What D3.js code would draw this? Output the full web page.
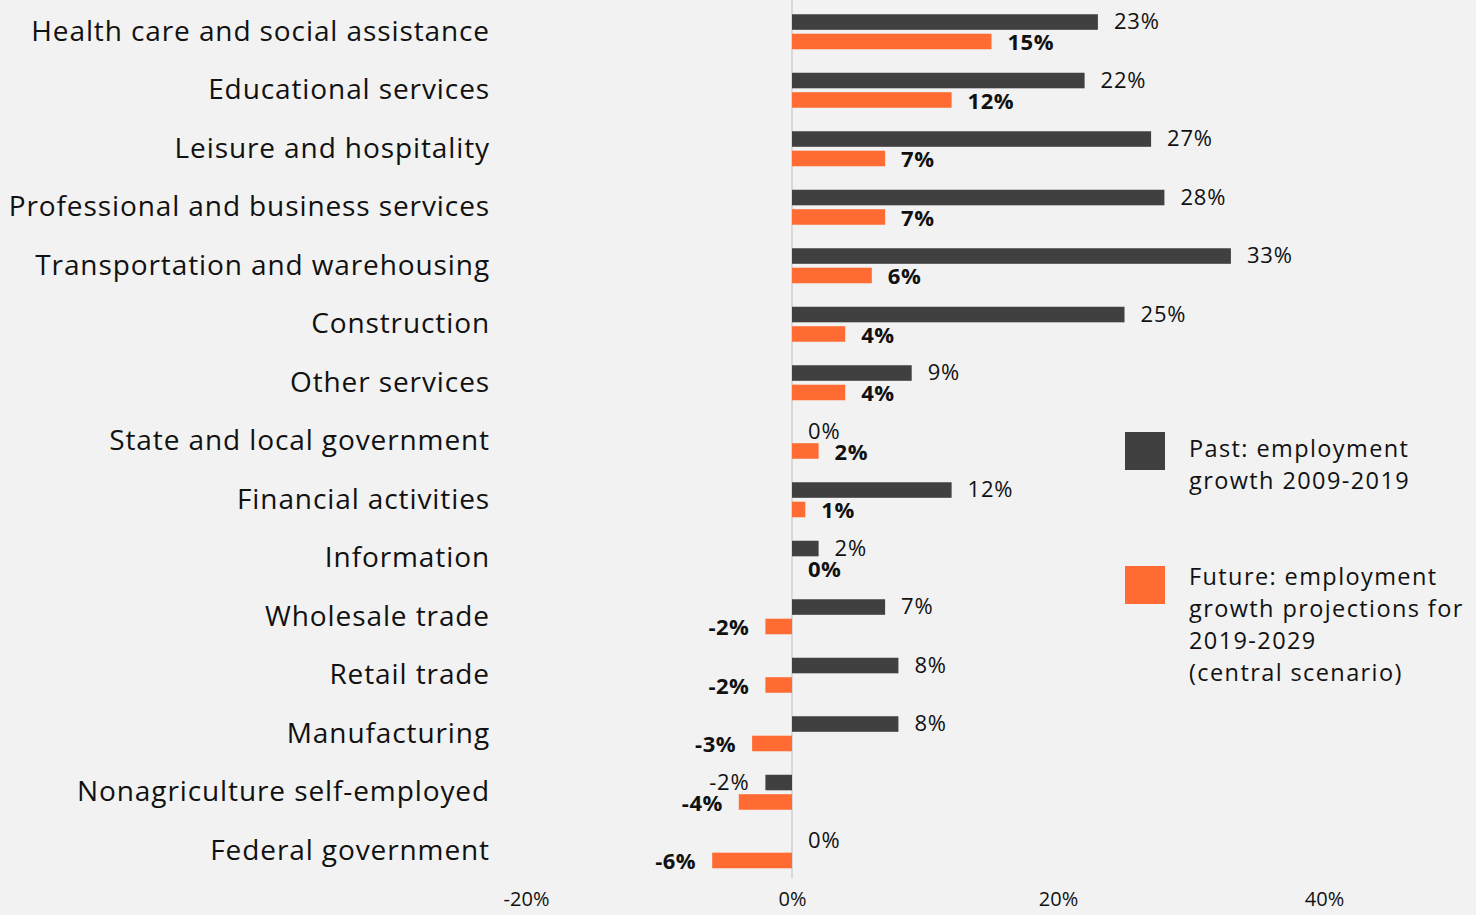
<!DOCTYPE html>
<html>
<head>
<meta charset="utf-8">
<script src="https://cdn.jsdelivr.net/npm/d3@7"></script>
<style>
  html, body { margin: 0; padding: 0; background: #f2f2f2; }
  svg { display: block; font-family: "Century Gothic", "Open Sans", sans-serif; }
</style>
</head>
<body>
<div id="chart"></div>
<script>
var categories = [
  "Health care and social assistance",
  "Educational services",
  "Leisure and hospitality",
  "Professional and business services",
  "Transportation and warehousing",
  "Construction",
  "Other services",
  "State and local government",
  "Financial activities",
  "Information",
  "Wholesale trade",
  "Retail trade",
  "Manufacturing",
  "Nonagriculture self-employed",
  "Federal government"
];
var past = [23, 22, 27, 28, 33, 25, 9, 0, 12, 2, 7, 8, 8, -2, 0];
var future = [15, 12, 7, 7, 6, 4, 4, 2, 1, 0, -2, -2, -3, -4, -6];
var xTicks = [-20, 0, 20, 40];
var seriesNames = ["Past: employment growth 2009-2019", "Future: employment growth projections for 2019-2029 (central scenario)"];
var legendLines = [
  ["Past: employment", "growth 2009-2019"],
  ["Future: employment", "growth projections for", "2019-2029", "(central scenario)"]
];

var width = 1476, height = 915;
var colors = { past: "#404040", future: "#ff6b33" };

var svg = d3.select("#chart").append("svg")
  .attr("width", width)
  .attr("height", height);

svg.append("rect").attr("width", width).attr("height", height).attr("fill", "#f2f2f2");

var x = d3.scaleLinear().domain([-20, 40]).range([526, 1324]);
var y = d3.scaleBand().domain(categories).range([2.25, 879.75]);
var y1 = d3.scaleBand().domain(["past", "future"]).range([12, 47]).paddingInner(0.2);

var rows = categories.map(function (c, i) {
  return { cat: c, past: past[i], future: future[i] };
});

// zero line
svg.append("line")
  .attr("x1", x(0)).attr("x2", x(0))
  .attr("y1", 0).attr("y2", 878)
  .attr("stroke", "#d9d9d9").attr("stroke-width", 2);

var g = svg.selectAll(".row").data(rows).enter().append("g")
  .attr("class", "row")
  .attr("transform", function (d) { return "translate(0," + y(d.cat) + ")"; });

["past", "future"].forEach(function (k) {
  g.append("rect")
    .attr("x", function (d) { return x(Math.min(0, d[k])); })
    .attr("y", y1(k))
    .attr("width", function (d) { return Math.abs(x(d[k]) - x(0)); })
    .attr("height", y1.bandwidth())
    .attr("fill", colors[k]);

  g.append("text")
    .attr("x", function (d) { return d[k] < 0 ? x(d[k]) - 16 : x(d[k]) + 16; })
    .attr("y", y1(k) + y1.bandwidth() / 2 + (k === "past" ? -2 : 0))
    .attr("text-anchor", function (d) { return d[k] < 0 ? "end" : "start"; })
    .attr("dominant-baseline", "central")
    .attr("font-size", 22)
    .attr("letter-spacing", k === "future" ? 0.5 : 0.8)
    .attr("font-weight", k === "future" ? "bold" : "normal")
    .attr("fill", "#111")
    .text(function (d) { return d[k] + "%"; });
});

// category labels
g.append("text")
  .attr("x", 490)
  .attr("y", y.bandwidth() / 2 - 2)
  .attr("text-anchor", "end")
  .attr("dominant-baseline", "central")
  .attr("font-size", 28)
  .attr("letter-spacing", 0.9)
  .attr("fill", "#111")
  .text(function (d) { return d.cat; });

// x axis
var xAxis = svg.append("g")
  .attr("transform", "translate(0,892)")
  .call(d3.axisBottom(x).tickValues(xTicks).tickSize(0).tickFormat(function (d) { return d + "%"; }));
xAxis.select(".domain").remove();
xAxis.selectAll("text")
  .attr("font-size", 20)
  .attr("font-family", "\"Century Gothic\", \"Open Sans\", sans-serif")
  .attr("fill", "#111")
  .attr("dy", "0.55em");

// legend
var legendTop = [432, 566];
var leg = svg.selectAll(".legend").data(["past", "future"]).enter().append("g")
  .attr("class", "legend")
  .attr("transform", function (d, i) { return "translate(1125," + legendTop[i] + ")"; });
leg.append("rect").attr("width", 40).attr("height", 38)
  .attr("fill", function (d) { return colors[d]; });
leg.append("title").text(function (d, i) { return seriesNames[i]; });
leg.each(function (d, i) {
  d3.select(this).selectAll("text").data(legendLines[i]).enter().append("text")
    .attr("x", 64)
    .attr("y", function (t, j) { return (i === 0 ? 16 : 10) + j * 32; })
    .attr("dominant-baseline", "central")
    .attr("font-size", 23.5)
    .attr("letter-spacing", 1.4)
    .attr("fill", "#111")
    .text(function (t) { return t; });
});
</script>
</body>
</html>
